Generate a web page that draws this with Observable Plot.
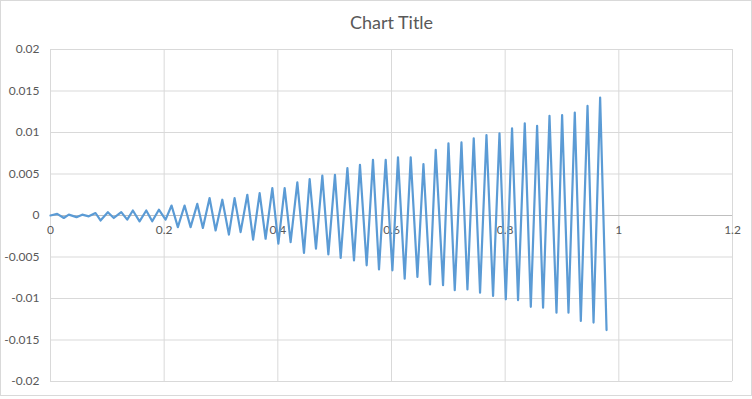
<!DOCTYPE html>
<html>
<head>
<meta charset="utf-8">
<script src="https://cdn.jsdelivr.net/npm/d3@7"></script>
<script src="https://cdn.jsdelivr.net/npm/@observablehq/plot@0.6"></script>
<style>
  html, body { margin: 0; padding: 0; background: #fff; }
  #wrap { position: relative; width: 752px; height: 399px; }
  #border { position: absolute; left: 0; top: 0; width: 750px; height: 394px; border: 1px solid #d9d9d9; pointer-events: none; }
</style>
</head>
<body>
<div id="wrap"><div id="border"></div></div>
<script>
const chartTitle = "Chart Title";

// Local maxima of the series (x, y)
const peakX = [0.0118, 0.0322, 0.0558, 0.0792, 0.1009, 0.1245, 0.1449, 0.1685, 0.1907, 0.2130,
               0.2359, 0.2583, 0.2799, 0.3023, 0.3239, 0.3463, 0.3680, 0.3903, 0.4120, 0.4343,
               0.4560, 0.4783, 0.5005, 0.5224, 0.5445, 0.5674, 0.5898, 0.6114, 0.6338, 0.6562,
               0.6778, 0.7002, 0.7231, 0.7447, 0.7671, 0.7900, 0.8121, 0.8345, 0.8562, 0.8780,
               0.9002, 0.9225, 0.9449, 0.9671];
const peakY = [0.0002, 0.0001, 0.0001, 0.0003, 0.0004, 0.0004, 0.0006, 0.0006, 0.0007, 0.0012,
               0.0012, 0.0014, 0.0021, 0.0019, 0.0021, 0.0025, 0.0027, 0.0033, 0.0033, 0.0040,
               0.0044, 0.0048, 0.0049, 0.0057, 0.0061, 0.0067, 0.0067, 0.0070, 0.0070, 0.0062,
               0.0079, 0.0087, 0.0088, 0.0093, 0.0097, 0.0099, 0.0105, 0.0111, 0.0108, 0.0120,
               0.0121, 0.0124, 0.0132, 0.0142];
// Local minima of the series (x, y)
const troughX = [0.0234, 0.0458, 0.0674, 0.0880, 0.1114, 0.1350, 0.1567, 0.1790, 0.2025, 0.2241,
                 0.2465, 0.2681, 0.2905, 0.3139, 0.3345, 0.3565, 0.3785, 0.4009, 0.4225, 0.4460,
                 0.4671, 0.4889, 0.5106, 0.5340, 0.5563, 0.5780, 0.6016, 0.6232, 0.6456, 0.6678,
                 0.6907, 0.7113, 0.7336, 0.7558, 0.7787, 0.8011, 0.8227, 0.8451, 0.8667, 0.8903,
                 0.9114, 0.9331, 0.9555, 0.9784];
const troughY = [-0.0003, -0.0002, -0.0001, -0.0006, -0.0003, -0.0005, -0.0007, -0.0007, -0.0005, -0.0014,
                 -0.0014, -0.0015, -0.0018, -0.0023, -0.0020, -0.0029, -0.0028, -0.0034, -0.0032, -0.0045,
                 -0.0040, -0.0047, -0.0051, -0.0054, -0.0060, -0.0065, -0.0066, -0.0076, -0.0074, -0.0083,
                 -0.0084, -0.0090, -0.0089, -0.0093, -0.0097, -0.0101, -0.0102, -0.0110, -0.0111, -0.0117,
                 -0.0117, -0.0127, -0.0129, -0.0138];

const xTicks = [0, 0.2, 0.4, 0.6, 0.8, 1, 1.2];
const xTickLabels = ["0", "0.2", "0.4", "0.6", "0.8", "1", "1.2"];
const yTicks = [-0.02, -0.015, -0.01, -0.005, 0, 0.005, 0.01, 0.015, 0.02];
const yTickLabels = ["-0.02", "-0.015", "-0.01", "-0.005", "0", "0.005", "0.01", "0.015", "0.02"];

// Build the series: start at origin, then alternate peak / trough
const series = [{x: 0, y: 0}];
for (let i = 0; i < peakX.length; i++) {
  series.push({x: peakX[i], y: peakY[i]});
  series.push({x: troughX[i], y: troughY[i]});
}

const textColor = "#595959";
const font = "Lato, 'Open Sans', sans-serif";

const chart = Plot.plot({
  width: 752,
  height: 399,
  marginLeft: 50,
  marginRight: 20,
  marginTop: 49,
  marginBottom: 18,
  style: { fontFamily: font, fontSize: "12px", color: textColor, background: "transparent" },
  x: { domain: [0, 1.2] },
  y: { domain: [-0.02, 0.02] },
  marks: [
    Plot.gridX(xTicks, { stroke: "#d9d9d9", strokeOpacity: 1 }),
    Plot.gridY(yTicks, { stroke: "#d9d9d9", strokeOpacity: 1 }),
    Plot.ruleY([0], { stroke: "#bfbfbf", strokeWidth: 1 }),
    Plot.axisY(yTicks, {
      tickSize: 0, tickPadding: 11, fontSize: 12,
      tickFormat: (d) => yTickLabels[yTicks.indexOf(d)], label: null
    }),
    Plot.axisX({ ticks: [], label: null, tickSize: 0 }),
    Plot.text(xTicks, {
      x: (d) => d, y: () => 0, dy: 15, fontSize: 12, fill: textColor,
      text: (d, i) => xTickLabels[i]
    }),
    Plot.line(series, { x: "x", y: "y", stroke: "#5b9bd5", strokeWidth: 2.2, strokeLinejoin: "round" }),
    Plot.text([chartTitle], {
      frameAnchor: "top", dy: -33, fontSize: 18, fill: textColor, text: (d) => d
    })
  ]
});
document.getElementById("wrap").prepend(chart);
</script>
</body>
</html>
